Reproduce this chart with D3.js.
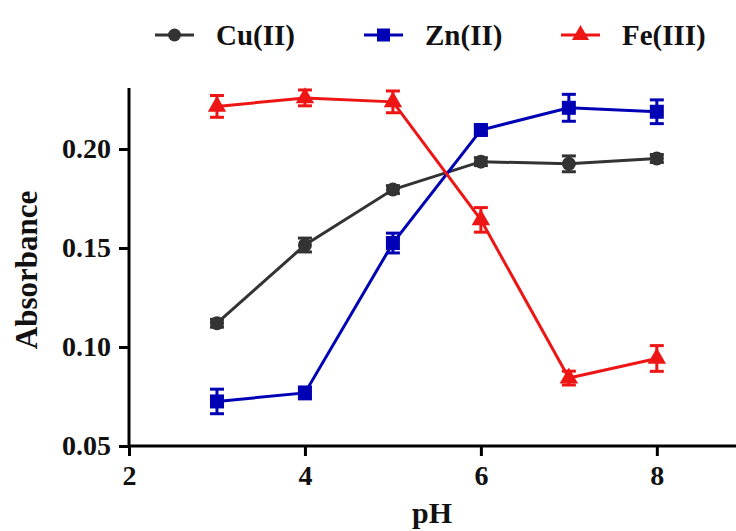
<!DOCTYPE html>
<html>
<head>
<meta charset="utf-8">
<script src="https://cdn.jsdelivr.net/npm/d3@7"></script>
<style>
  body { margin: 0; background: #fff; }
  text { font-family: "Liberation Serif", "Times New Roman", serif; font-weight: bold; }
</style>
</head>
<body>
<div id="chart"></div>
<script>
// Data
const pH = [3, 4, 5, 6, 7, 8];
const cuValues = [0.112, 0.1515, 0.1795, 0.1936, 0.1925, 0.1952];
const cuErrors = [0.002, 0.0035, 0.002, 0.002, 0.004, 0.002];
const znValues = [0.0725, 0.0768, 0.1525, 0.2096, 0.2208, 0.2188];
const znErrors = [0.0062, 0.003, 0.005, 0.002, 0.0068, 0.006];
const feValues = [0.2215, 0.2258, 0.2238, 0.1642, 0.0843, 0.0942];
const feErrors = [0.0055, 0.004, 0.0055, 0.0062, 0.0035, 0.0065];
const xTicks = [2, 4, 6, 8];
const yTicks = [0.05, 0.10, 0.15, 0.20];

const series = [
  { name: "Cu(II)", values: cuValues, errors: cuErrors, color: "#333333", shape: "circle" },
  { name: "Zn(II)", values: znValues, errors: znErrors, color: "#0000b4", shape: "square" },
  { name: "Fe(III)", values: feValues, errors: feErrors, color: "#ee1515", shape: "triangle" }
];

const width = 736, height = 531;

const svg = d3.select("#chart")
    .append("svg")
    .attr("width", width)
    .attr("height", height);

// Scales
const x = d3.scaleLinear().domain([2, 8.9]).range([129, 736]);
const y = d3.scaleLinear().domain([0.05, 0.2308]).range([446, 88]);

// X axis
const xAxis = svg.append("g")
    .attr("transform", `translate(0,${y(0.05)})`)
    .call(d3.axisBottom(x).tickValues(xTicks).tickSize(10).tickPadding(9).tickFormat(d3.format("d")));
xAxis.select(".domain").attr("stroke-width", 3).attr("d", `M${x(2)},0H${width}`);
xAxis.selectAll(".tick line").attr("stroke-width", 3);
xAxis.selectAll("text").attr("font-size", 28).attr("fill", "#111");

// Y axis
const yAxis = svg.append("g")
    .attr("transform", `translate(${x(2)},0)`)
    .call(d3.axisLeft(y).tickValues(yTicks).tickSize(10).tickPadding(8).tickFormat(d3.format(".2f")));
yAxis.select(".domain").attr("stroke-width", 3).attr("d", `M0,${y(0.2308)}V${y(0.05)}`);
yAxis.selectAll(".tick line").attr("stroke-width", 3);
yAxis.selectAll("text").attr("font-size", 28).attr("fill", "#111");

// Axis titles
svg.append("text")
    .attr("x", 432)
    .attr("y", 523)
    .attr("text-anchor", "middle")
    .attr("font-size", 30)
    .attr("fill", "#111")
    .text("pH");

svg.append("text")
    .attr("transform", `translate(37,270) rotate(-90)`)
    .attr("text-anchor", "middle")
    .attr("font-size", 31)
    .attr("fill", "#111")
    .text("Absorbance");

// Marker drawing helper
function marker(g, shape, color, size) {
    if (shape === "circle") {
        g.append("circle").attr("r", size * 0.5).attr("fill", color);
    } else if (shape === "square") {
        g.append("rect").attr("x", -size / 2).attr("y", -size / 2)
            .attr("width", size).attr("height", size).attr("fill", color);
    } else {
        g.append("path")
            .attr("d", d3.symbol().type(d3.symbolTriangle).size(size * size * 0.75)())
            .attr("fill", color);
    }
}

const line = d3.line()
    .x(d => x(d.x))
    .y(d => y(d.y));

series.forEach(s => {
    const pts = pH.map((p, i) => ({ x: p, y: s.values[i], e: s.errors[i] }));

    svg.append("path")
        .datum(pts)
        .attr("fill", "none")
        .attr("stroke", s.color)
        .attr("stroke-width", 3)
        .attr("d", line);

    // Error bars
    const eb = svg.append("g").attr("stroke", s.color).attr("stroke-width", 3);
    pts.forEach(d => {
        eb.append("line")
            .attr("x1", x(d.x)).attr("x2", x(d.x))
            .attr("y1", y(d.y - d.e)).attr("y2", y(d.y + d.e));
        [d.y - d.e, d.y + d.e].forEach(v => {
            eb.append("line")
                .attr("x1", x(d.x) - 7).attr("x2", x(d.x) + 7)
                .attr("y1", y(v)).attr("y2", y(v));
        });
    });

    pts.forEach(d => {
        const g = svg.append("g").attr("transform", `translate(${x(d.x)},${y(d.y)})`);
        marker(g, s.shape, s.color, 14);
    });
});

// Legend
const legendX = [155, 364, 561];
series.forEach((s, i) => {
    const g = svg.append("g").attr("transform", `translate(${legendX[i]},35)`);
    g.append("line")
        .attr("x1", 0).attr("x2", 39)
        .attr("stroke", s.color).attr("stroke-width", 3);
    const m = g.append("g").attr("transform", "translate(19.5,0)");
    marker(m, s.shape, s.color, 13);
    g.append("text")
        .attr("x", 61)
        .attr("y", 0)
        .attr("dy", "0.35em")
        .attr("font-size", 29)
        .attr("fill", "#111")
        .text(s.name);
});
</script>
</body>
</html>
